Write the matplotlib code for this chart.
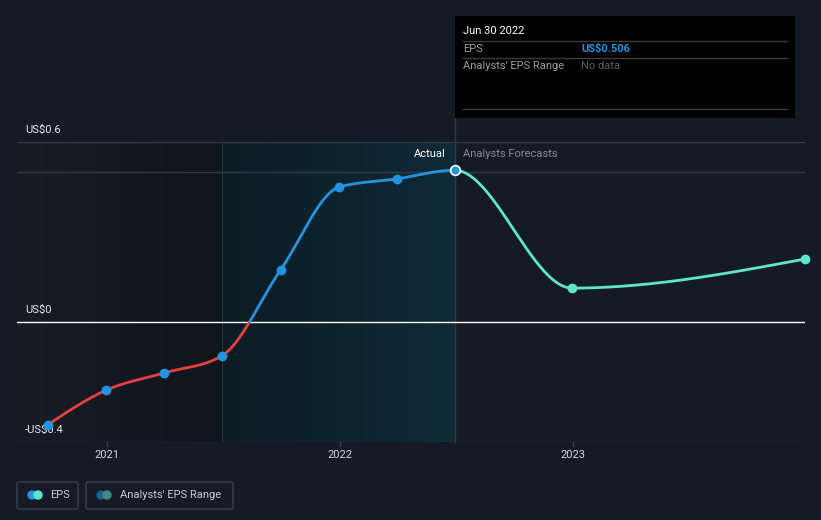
import datetime as dt
import numpy as np
import matplotlib
matplotlib.use("Agg")
import matplotlib.pyplot as plt
import matplotlib.dates as mdates
from matplotlib.patches import Rectangle, FancyBboxPatch, Circle

plt.rcParams['font.family'] = ['Roboto', 'DejaVu Sans']

# EPS data (US$)
actual_dates = ["2020-09-30", "2020-12-31", "2021-03-31", "2021-06-30",
                "2021-09-30", "2021-12-31", "2022-03-31", "2022-06-30"]
actual_eps = [-0.343, -0.227, -0.17, -0.113, 0.173, 0.45, 0.477, 0.506]
forecast_dates = ["2022-12-31", "2023-12-31"]
forecast_eps = [0.113, 0.21]

y_ticks = [-0.4, 0, 0.6]
y_labels = ["-US$0.4", "US$0", "US$0.6"]
x_ticks = ["2021-01-01", "2022-01-01", "2023-01-01"]
x_labels = ["2021", "2022", "2023"]

BG = "#151b26"
RED = "#e5413f"
BLUE = "#2394df"
TEAL = "#5de6c9"


def to_num(ds):
    return np.array([mdates.date2num(dt.datetime.strptime(d, "%Y-%m-%d")) for d in ds])


def monotone(x, y, n=300):
    # monotone cubic (like d3 curveMonotoneX)
    x = np.asarray(x, float)
    y = np.asarray(y, float)
    h = np.diff(x)
    s = np.diff(y) / h
    t = np.zeros_like(y)
    for i in range(1, len(x) - 1):
        p = (s[i - 1] * h[i] + s[i] * h[i - 1]) / (h[i - 1] + h[i])
        t[i] = (np.sign(s[i - 1]) + np.sign(s[i])) * min(abs(s[i - 1]), abs(s[i]), 0.5 * abs(p))
    t[0] = (3 * s[0] - t[1]) / 2
    t[-1] = (3 * s[-1] - t[-2]) / 2
    xs, ys = [], []
    for i in range(len(x) - 1):
        u = np.linspace(0, 1, n)
        h00 = 2 * u**3 - 3 * u**2 + 1
        h10 = u**3 - 2 * u**2 + u
        h01 = -2 * u**3 + 3 * u**2
        h11 = u**3 - u**2
        xs.append(x[i] + u * h[i])
        ys.append(h00 * y[i] + h10 * h[i] * t[i] + h01 * y[i + 1] + h11 * h[i] * t[i + 1])
    return np.concatenate(xs), np.concatenate(ys)


ax_x = to_num(actual_dates)
fc_x = to_num(forecast_dates)
all_x = np.concatenate([ax_x, fc_x])
all_y = np.array(actual_eps + forecast_eps)
cx, cy = monotone(all_x, all_y)
split = ax_x[-1]

W, H = 821, 520
fig = plt.figure(figsize=(W / 100, H / 100), dpi=100, facecolor=BG)
L, R, T, B = 17, 805, 142, 442
ax = fig.add_axes([L / W, 1 - B / H, (R - L) / W, (B - T) / H])
ax.set_facecolor(BG)
x0 = mdates.date2num(dt.datetime(2020, 8, 13))
x1 = fc_x[-1]
ax.set_xlim(x0, x1)
ax.set_ylim(-0.4, 0.6)
for s in ax.spines.values():
    s.set_visible(False)
ax.set_xticks([])
ax.set_yticks([])

# shaded regions
grad = np.linspace(0, 1, 256).reshape(1, -1)
from matplotlib.colors import LinearSegmentedColormap
cm_left = LinearSegmentedColormap.from_list("l", ["#171c27", "#10141b"])
cm_right = LinearSegmentedColormap.from_list("r", ["#0c1c25", "#0e2b37"])
mid = to_num(["2021-06-30"])[0]
ax.imshow(grad, cmap=cm_left, extent=[x0, mid, -0.4, 0.6], aspect="auto", zorder=0)
ax.imshow(grad, cmap=cm_right, extent=[mid, split, -0.4, 0.6], aspect="auto", zorder=0)
ax.axvline(mid, color="#1d3440", lw=0.8, zorder=1)
ax.set_xlim(x0, x1)
ax.set_ylim(-0.4, 0.6)

# grid lines
ax.axhline(0.6, color="#343b46", lw=1, zorder=1)
ax.axhline(0.5, color="#343b46", lw=1, zorder=1)
ax.axhline(0, color="white", lw=1, zorder=2)
ax.axhline(-0.4, color="#3a414c", lw=1, zorder=2)
ax.plot([split, split], [-0.4, 0.684], color="#2b3d49", lw=1, zorder=1, clip_on=False)

# curves
m = cx <= split
line_r, = ax.plot(cx[m], cy[m], color=RED, lw=2, zorder=3, solid_capstyle="round")
line_b, = ax.plot(cx[m], cy[m], color=BLUE, lw=2, zorder=3, solid_capstyle="round")
line_r.set_clip_path(Rectangle((x0, -1), x1 - x0, 1, transform=ax.transData))
line_b.set_clip_path(Rectangle((x0, 0), x1 - x0, 1, transform=ax.transData))
mf = cx >= split
ax.plot(cx[mf], cy[mf], color=TEAL, lw=2, zorder=3, clip_on=False)

ax.plot(ax_x[:-1], actual_eps[:-1], "o", color=BLUE, ms=6, zorder=4, clip_on=False)
ax.plot(ax_x[-1], actual_eps[-1], "o", color=BLUE, ms=7, mec="white", mew=1.2, zorder=5, clip_on=False)
ax.plot(fc_x, forecast_eps, "o", color=TEAL, ms=6, zorder=4, clip_on=False)

# axis labels
for v, lab in zip(y_ticks, y_labels):
    ax.annotate(lab, (x0, v), xytext=(8, 12), textcoords="offset pixels", color="#e6e8eb",
                fontsize=8, va="center", ha="left")
for d, lab in zip(to_num(x_ticks), x_labels):
    ax.annotate(lab, (d, -0.4), xytext=(0, -13), textcoords="offset pixels", color="#d5d8dc",
                fontsize=8, va="center", ha="center", annotation_clip=False)
    ax.plot([d, d], [-0.4, -0.413], color="#3a414c", lw=1, clip_on=False)

ax.annotate("Actual", (split, 0.6), xytext=(-9, -12), textcoords="offset pixels",
            color="white", fontsize=8, ha="right", va="center")
ax.annotate("Analysts Forecasts", (split, 0.6), xytext=(8, -12), textcoords="offset pixels",
            color="#878d96", fontsize=8, ha="left", va="center")

# overlay in pixel coordinates: tooltip and legend
ov = fig.add_axes([0, 0, 1, 1], facecolor="none")
ov.set_xlim(0, W)
ov.set_ylim(H, 0)
ov.axis("off")

ov.add_patch(Rectangle((455, 16), 340, 102, facecolor="black", edgecolor="none"))
for yy in (41, 58, 109):
    ov.plot([463, 787], [yy, yy], color="#3a3a3a", lw=1)
ov.text(463, 31, "Jun 30 2022", color="white", fontsize=8, va="center")
ov.text(463, 49, "EPS", color="#9a9ea4", fontsize=8, va="center")
ov.text(581, 49, "US$0.506", color=BLUE, fontsize=8, va="center", fontweight="bold")
ov.text(463, 66, "Analysts' EPS Range", color="#9a9ea4", fontsize=8, va="center")
ov.text(581, 66, "No data", color="#5c6066", fontsize=8, va="center")

ov.add_patch(FancyBboxPatch((17, 482), 61, 27, boxstyle="round,pad=0,rounding_size=2",
                            facecolor="none", edgecolor="#3b424e", lw=1))
ov.add_patch(FancyBboxPatch((86, 482), 147, 27, boxstyle="round,pad=0,rounding_size=2",
                            facecolor="none", edgecolor="#3b424e", lw=1))
ov.add_patch(Circle((32, 495), 4, color=BLUE))
ov.add_patch(Circle((38, 495), 4, color=TEAL))
ov.add_patch(Circle((101, 495), 4, color="#1f5f8c"))
ov.add_patch(Circle((107, 495), 4, color="#3f8a82"))
ov.text(50, 495, "EPS", color="#c9ccd1", fontsize=8, va="center")
ov.text(120, 495, "Analysts' EPS Range", color="#c9ccd1", fontsize=8, va="center")

fig.savefig("out.png", dpi=100, facecolor=BG)
